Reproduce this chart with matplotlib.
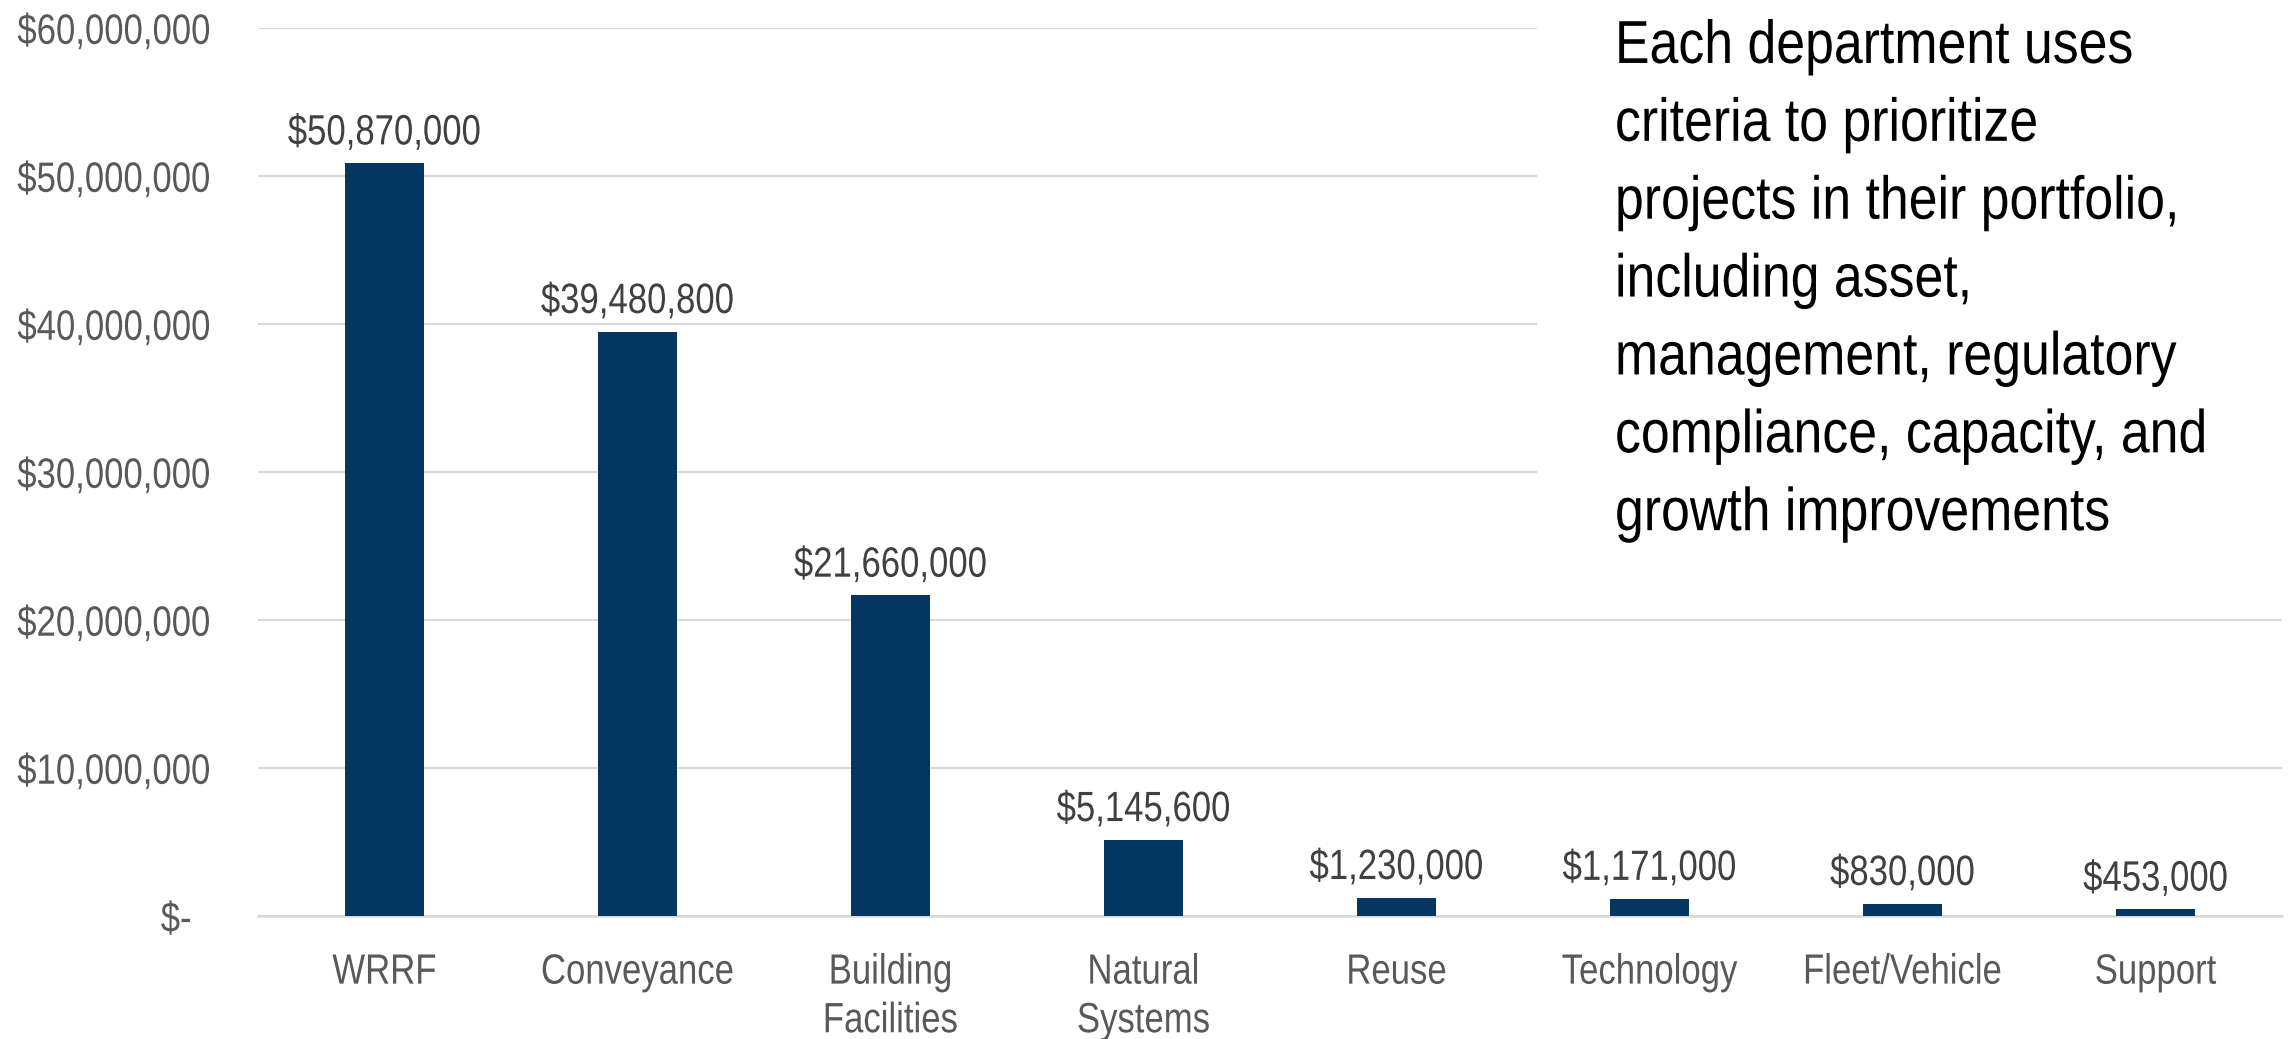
"""
Capital budget by department - bar chart with annotation box.
"""
import matplotlib
matplotlib.use("Agg")
import matplotlib.pyplot as plt
from matplotlib.patches import Rectangle
from matplotlib.patheffects import AbstractPathEffect
from matplotlib.ticker import FuncFormatter
from matplotlib.transforms import Affine2D

# ── Data ──────────────────────────────────────────────────────────────────────
departments = ["WRRF", "Conveyance", "Building\nFacilities", "Natural\nSystems",
               "Reuse", "Technology", "Fleet/Vehicle", "Support"]
budget = [50870000, 39480800, 21660000, 5145600,
          1230000, 1171000, 830000, 453000]
y_ticks = [0, 10000000, 20000000, 30000000, 40000000, 50000000, 60000000]
note = ("Each department uses\ncriteria to prioritize\nprojects in their portfolio,\n"
        "including asset,\nmanagement, regulatory\ncompliance, capacity, and\n"
        "growth improvements")

plt.rcParams["font.family"] = ["Liberation Sans", "DejaVu Sans"]

BAR = "#033762"
GRID = "#d9d9d9"


class Tall(AbstractPathEffect):
    """Stretch glyphs vertically (the original uses a condensed Arial look)."""
    def __init__(self, sy, ycenter=0.0):
        super().__init__()
        self.sy = sy
        self.ycenter = ycenter   # in em above the baseline

    def draw_path(self, renderer, gc, tpath, affine, rgbFace=None):
        ox, oy = affine.transform((0, 100 * self.ycenter))
        aff = affine + Affine2D().translate(-ox, -oy).scale(1, self.sy).translate(ox, oy)
        renderer.draw_path(gc, tpath, aff, rgbFace)


SY = 1.22
FS = 25

fig = plt.figure(figsize=(22.95, 10.39), dpi=100)
ax = fig.add_axes([0.1124, 0.1184, 0.882, 0.8546])

x = range(len(departments))
ax.bar(x, budget, width=0.312, color=BAR, zorder=3)

for i, v in enumerate(budget):
    ax.annotate(f"${v:,.0f}", (i, v), xytext=(0, 13.5), textcoords="offset points",
                ha="center", va="baseline", fontsize=FS, color="#404040",
                path_effects=[Tall(SY)])

ax.set_xlim(-0.5, len(departments) - 0.5)
ax.set_ylim(0, 60000000)
ax.set_yticks(y_ticks)
ax.yaxis.set_major_formatter(FuncFormatter(
    lambda v, _: "$-  " if v == 0 else f"${v:,.0f}"))
ax.set_xticks(list(x))
ax.set_xticklabels(departments, linespacing=1.6)

ax.tick_params(axis="y", length=0, pad=34, labelsize=FS, labelcolor="#595959")
ax.tick_params(axis="x", length=0, pad=30, labelsize=FS, labelcolor="#595959")

for t in ax.yaxis.get_major_ticks():
    t.label1.set_path_effects([Tall(SY, ycenter=0.358)])
for t in ax.xaxis.get_major_ticks():
    t.label1.set_path_effects([Tall(SY)])

ax.grid(axis="y", color=GRID, linewidth=1.5, zorder=0)
for s in ["top", "right", "left"]:
    ax.spines[s].set_visible(False)
ax.spines["bottom"].set_color(GRID)
ax.spines["bottom"].set_linewidth(1.8)

# white text box covering the upper-right of the grid
fig.patches.append(Rectangle((0.6697, 0.461), 0.3303, 0.539, transform=fig.transFigure,
                             facecolor="white", edgecolor="none", zorder=1))
fig.text(0.7037, 0.976, note, ha="left", va="top", fontsize=37.3, color="black",
         linespacing=1.76, zorder=2, path_effects=[Tall(1.17)])

fig.savefig("out.png", dpi=100)
